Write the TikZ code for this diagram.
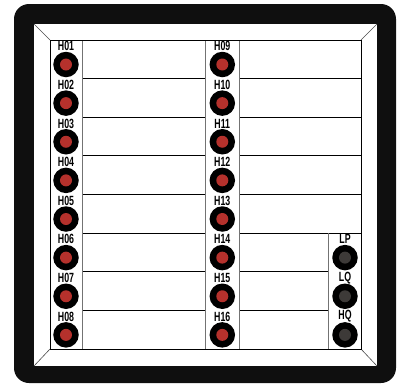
\documentclass[tikz,border=0pt]{standalone}
\usepackage{fontspec}
\setmainfont{Liberation Sans}
\definecolor{jred}{HTML}{B5312C}
\definecolor{jgray}{HTML}{3D3A38}
\definecolor{frame}{HTML}{0F0F0F}
\begin{document}
\begin{tikzpicture}[x=1bp,y=-1bp,
  lab/.style={font=\bfseries\fontsize{13.4}{13.4}\selectfont, inner sep=0pt},
  jackout/.style={circle, fill=black, minimum size=25.5bp, inner sep=0pt},
  jackin/.style={circle, minimum size=12bp, inner sep=0pt},
  rowline/.style={draw=black, line width=0.9bp},
  stripline/.style={draw=black!55, line width=0.9bp},
  bevel/.style={draw=black!70, line width=0.6bp}]
\useasboundingbox (0,0) rectangle (397,384);
% frame
\fill[frame, rounded corners=15bp] (14,4) rectangle (396,383);
\fill[white] (34,24) rectangle (377,366);
% bevel
\coordinate (oa) at (34,24); \coordinate (ob) at (377,24);
\coordinate (oc) at (34,366); \coordinate (od) at (377,366);
\coordinate (ia) at (50,40); \coordinate (ib) at (361,40);
\coordinate (ic) at (50,349); \coordinate (id) at (361,349);
\draw[bevel] (oa) -- (ia); \draw[bevel] (ob) -- (ib);
\draw[bevel] (oc) -- (ic); \draw[bevel] (od) -- (id);
% row lines
\foreach \i in {1,...,7}{
  \pgfmathsetmacro{\yy}{40+38.625*\i}
  \draw[rowline] (82,\yy) -- (205.7,\yy);
}
\foreach \i in {1,...,5}{
  \pgfmathsetmacro{\yy}{40+38.625*\i}
  \draw[rowline] (239,\yy) -- (361,\yy);
}
\foreach \i in {6,7}{
  \pgfmathsetmacro{\yy}{40+38.625*\i}
  \draw[rowline] (239,\yy) -- (328.7,\yy);
}
% strip verticals
\draw[stripline] (82,40) -- (82,349);
\draw[stripline] (205.7,40) -- (205.7,349);
\draw[stripline] (239,40) -- (239,349);
\draw[stripline] (328.7,233.1) -- (328.7,349);
% panel border
\draw[rowline] (ia) rectangle (id);
% jacks left and middle
\foreach \i/\a/\b in {0/01/09,1/02/10,2/03/11,3/04/12,4/05/13,5/06/14,6/07/15,7/08/16}{
  \pgfmathsetmacro{\ty}{40+38.625*\i}
  \node[lab] (lH\a) at (66,\ty+6.2) {\scalebox{0.66}[1]{H\a}};
  \node[jackout] (jH\a) at (66,\ty+24.5) {};
  \node[jackin, fill=jred] (rH\a) at (jH\a) {};
  \node[lab] (lH\b) at (222.3,\ty+6.2) {\scalebox{0.66}[1]{H\b}};
  \node[jackout] (jH\b) at (222.3,\ty+24.5) {};
  \node[jackin, fill=jred] (rH\b) at (jH\b) {};
}
% jacks right
\foreach \i/\n in {5/LP,6/LQ,7/HQ}{
  \pgfmathsetmacro{\ty}{40+38.625*\i}
  \node[lab] (l\n) at (345,\ty+6.2) {\scalebox{0.66}[1]{\n}};
  \node[jackout] (j\n) at (345,\ty+24.5) {};
  \node[jackin, fill=jgray] (r\n) at (j\n) {};
}
\end{tikzpicture}
\end{document}
